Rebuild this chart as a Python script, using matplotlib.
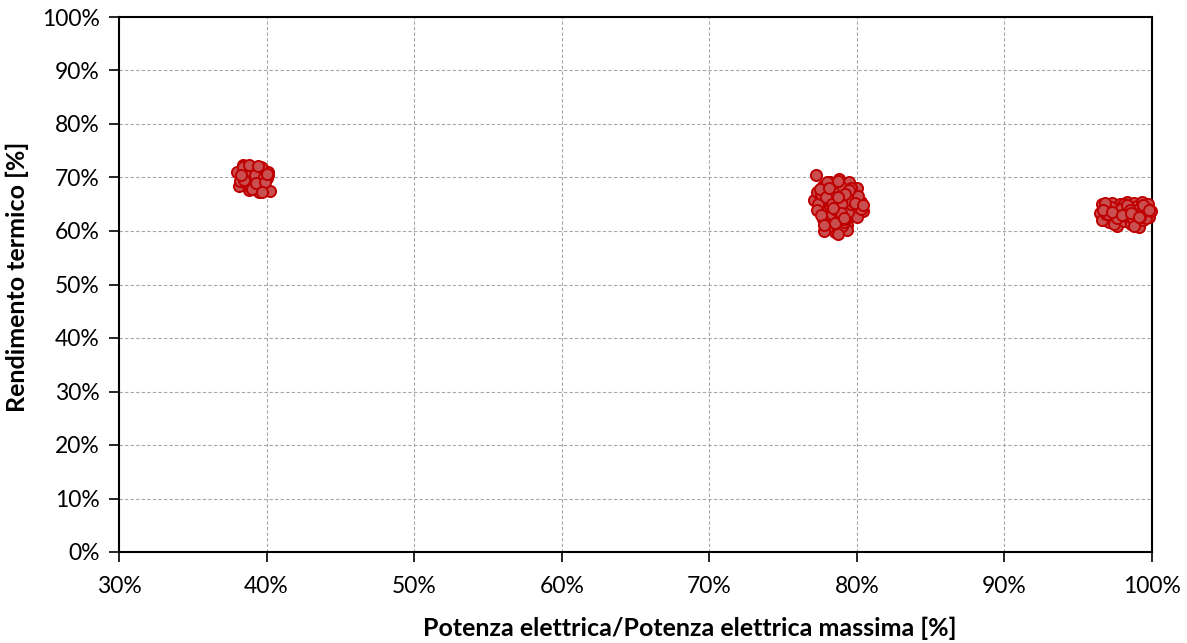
import matplotlib
matplotlib.use('Agg')
import matplotlib.pyplot as plt
from matplotlib.ticker import PercentFormatter, MultipleLocator

# operating points: electric load ratio [%] vs thermal efficiency [%]
load_40 = [38.0, 38.1, 38.3, 38.4, 38.5, 38.6, 38.7, 38.8, 38.9, 39.0, 39.1, 39.2,
           39.3, 39.4, 39.5, 39.6, 39.7, 39.8, 39.9, 40.0, 40.1, 40.2, 40.1, 38.2,
           38.6, 38.9, 39.2, 39.5, 39.8, 38.4, 39.0, 39.6, 39.3, 38.8, 39.9, 38.5,
           39.4, 40.0, 38.3, 39.7]
eff_40 = [71.1, 68.4, 69.8, 72.4, 70.6, 68.9, 71.5, 67.6, 70.2, 72.0, 69.1, 68.1,
          71.3, 70.0, 67.3, 69.5, 71.8, 68.6, 70.8, 69.9, 71.0, 67.4, 70.4, 69.3,
          70.9, 68.3, 70.5, 68.9, 70.1, 71.9, 67.9, 71.9, 69.0, 72.3, 69.2, 69.6,
          72.2, 70.6, 70.5, 67.2]

load_80 = [77.2, 77.1, 77.3, 77.5, 77.6, 77.7, 77.8, 77.9, 78.0, 78.1, 78.2, 78.3,
           78.4, 78.5, 78.6, 78.7, 78.8, 78.9, 79.0, 79.1, 79.2, 79.3, 79.4, 79.5,
           79.6, 79.7, 79.8, 79.9, 80.0, 80.1, 80.3, 80.4, 77.4, 77.7, 77.9, 78.1,
           78.3, 78.5, 78.7, 78.9, 79.1, 79.3, 79.5, 79.7, 79.9, 80.2, 77.6, 78.0,
           78.2, 78.4, 78.6, 78.8, 79.0, 79.2, 79.4, 79.6, 79.8, 80.0, 78.1, 78.3,
           78.5, 78.7, 78.9, 79.1, 79.3, 78.0, 78.4, 78.6, 78.8, 79.0, 79.2, 78.2,
           78.5, 78.7, 79.4, 77.8, 80.3, 79.6, 77.3, 77.5, 77.9, 78.3, 78.6, 79.0,
           79.3, 79.7, 80.1, 77.6, 78.1, 78.9, 79.5, 79.9, 78.4, 79.2, 77.8, 80.4,
           78.7, 79.1]
eff_80 = [70.5, 65.8, 67.3, 64.6, 66.2, 68.4, 63.9, 65.5, 67.8, 61.4, 69.2, 64.1,
          66.7, 68.9, 62.3, 65.2, 69.8, 60.4, 67.1, 63.6, 68.5, 61.2, 65.9, 69.1,
          63.2, 67.6, 64.4, 66.3, 68.1, 64.9, 65.4, 63.8, 65.1, 62.2, 67.0, 63.0,
          68.6, 59.9, 66.1, 62.8, 65.6, 60.1, 67.4, 62.9, 64.1, 65.0, 66.9, 60.6,
          65.3, 61.7, 63.4, 64.2, 60.9, 66.5, 64.8, 68.0, 66.0, 62.7, 66.0, 63.1,
          64.7, 59.5, 68.3, 61.6, 64.5, 69.1, 67.3, 65.6, 62.0, 65.8, 62.3, 64.6,
          61.5, 69.3, 63.5, 60.0, 64.2, 65.1, 64.0, 67.9, 66.4, 65.0, 63.9, 65.3,
          66.8, 65.7, 66.6, 62.9, 68.0, 63.3, 67.7, 65.2, 64.3, 67.0, 61.1, 64.9,
          66.3, 62.4]

load_100 = [96.5, 96.6, 96.7, 96.8, 96.9, 97.0, 97.1, 97.2, 97.3, 97.4, 97.5, 97.6,
            97.7, 97.8, 97.9, 98.0, 98.1, 98.2, 98.3, 98.4, 98.5, 98.6, 98.7, 98.8,
            98.9, 99.0, 99.1, 99.2, 99.3, 99.4, 99.5, 99.6, 99.7, 99.8, 96.6, 96.9,
            97.2, 97.5, 97.8, 98.1, 98.4, 98.7, 99.0, 99.3, 99.6, 99.9, 97.0, 97.4,
            97.9, 98.3, 98.8, 99.2, 99.7, 96.8, 97.6, 98.5, 99.4, 96.7, 97.3, 98.0,
            98.6, 99.1, 99.8]
eff_100 = [63.4, 65.0, 62.1, 64.2, 62.8, 64.9, 61.7, 63.6, 65.2, 62.5, 64.0, 61.0,
           63.3, 65.1, 62.2, 64.7, 61.9, 63.8, 65.4, 62.6, 64.3, 61.4, 63.0, 65.3,
           62.3, 64.6, 60.8, 63.7, 65.5, 62.1, 64.4, 63.0, 65.1, 62.7, 62.0, 63.1,
           64.5, 62.9, 63.7, 65.0, 63.1, 62.2, 64.0, 63.6, 62.4, 63.8, 63.2, 61.3,
           64.1, 64.9, 61.0, 62.7, 64.1, 65.2, 62.4, 63.9, 64.8, 63.9, 63.5, 62.9,
           63.3, 62.6, 64.0]

plt.rcParams['font.family'] = ['Lato', 'DejaVu Sans']

fig, ax = plt.subplots(figsize=(11.87, 6.43), dpi=100)
fig.subplots_adjust(left=119 / 1187, right=1152 / 1187, top=1 - 17 / 643, bottom=1 - 552 / 643)

for xs, ys in [(load_40, eff_40), (load_80, eff_80), (load_100, eff_100)]:
    ax.scatter(xs, ys, s=64, facecolor='#C94F50', edgecolor='#C00000',
               linewidth=1.4, zorder=3, clip_on=False)

ax.set_xlim(30, 100)
ax.set_ylim(0, 100)
ax.xaxis.set_major_locator(MultipleLocator(10))
ax.yaxis.set_major_locator(MultipleLocator(10))
ax.xaxis.set_major_formatter(PercentFormatter(decimals=0))
ax.yaxis.set_major_formatter(PercentFormatter(decimals=0))

ax.grid(True, linestyle=(0, (3, 2)), color='#A6A6A6', linewidth=0.8, zorder=0)
for sp in ax.spines.values():
    sp.set_color('black')
    sp.set_linewidth(1.5)
ax.tick_params(direction='out', length=7, width=1.2, labelsize=16.5, pad=7, colors='black')
ax.tick_params(axis='x', pad=10)

ax.set_xlabel('Potenza elettrica/Potenza elettrica massima [%]', fontsize=18,
              fontweight='bold')
ax.xaxis.set_label_coords(0.553, -0.12)
ax.set_ylabel('Rendimento termico [%]', fontsize=18, fontweight='bold')
ax.yaxis.set_label_coords(-0.087, 0.515)

fig.savefig('out.png', dpi=100)
